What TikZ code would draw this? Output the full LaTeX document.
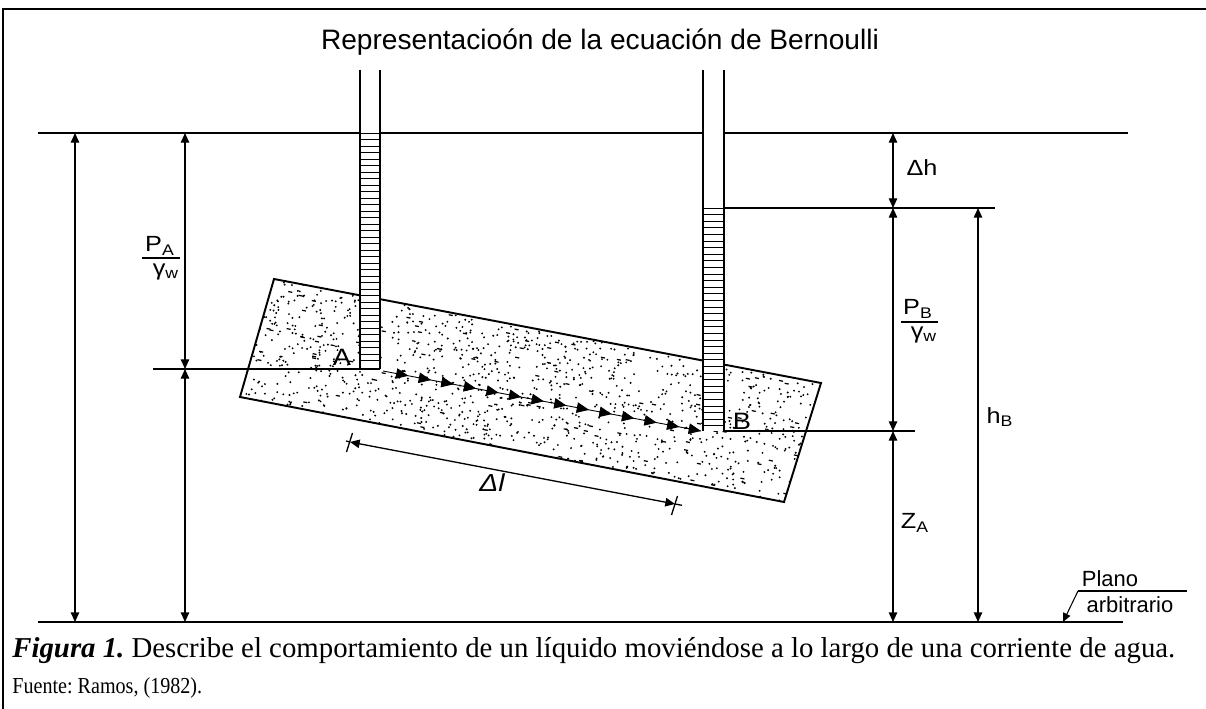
\documentclass[tikz,border=0pt]{standalone}
\usepackage{fontspec}
\setmainfont{Liberation Serif}
\setsansfont{Liberation Sans}
\usetikzlibrary{arrows.meta,calc}
\frenchspacing
% sans labels are set slightly wide
\newcommand\widelbl[1]{\scalebox{1.15}[1]{#1}}

\begin{document}
\begin{tikzpicture}[x=0.02cm,y=-0.02cm,
  dimline/.style={line width=0.75pt},
  dimboth/.style={dimline,{Triangle[length=5.5pt,width=4.8pt]}-{Triangle[length=5.5pt,width=4.8pt]}},
  refline/.style={line width=0.75pt},
  wall/.style={line width=0.9pt},
  hatch/.style={line width=0.55pt},
  soil/.style={line width=1.1pt},
  lbl/.style={font=\sffamily\fontsize{12.5}{14}\selectfont, inner sep=0pt},
  flowtip/.style={-{Triangle[length=7pt,width=6pt]}, line width=0.5pt}]
\useasboundingbox (0,0) rectangle (1206,709);

% frame
\coordinate (fBL) at (3,709);
\coordinate (fTL) at (3,9);
\coordinate (fTR) at (1206,9);
\draw[line width=1.2pt] (fBL) -- (fTL) -- (fTR);

% title
\node[font=\sffamily\fontsize{16}{18}\selectfont] (title) at (600,42) {Representacioón de la ecuación de Bernoulli};

% soil sample (tilted block) with stipple
\coordinate (sTL) at (274,279);
\coordinate (sTR) at (821,383);
\coordinate (sBR) at (784,502);
\coordinate (sBL) at (240,397);
\begin{scope}
  \clip (sTL) -- (sTR) -- (sBR) -- (sBL) -- cycle;
  \pgfmathsetseed{31}
  \foreach \i in {1,...,1100}{
    \pgfmathsetmacro\u{rnd}
    \pgfmathsetmacro\v{rnd}
    \fill ({240+544*\u+34*\v},{397+105*\u-118*\v}) circle (0.6pt);
  }
  \foreach \i in {1,...,110}{
    \pgfmathsetmacro\u{rnd}
    \pgfmathsetmacro\v{rnd}
    \draw[line width=0.7pt] ({240+544*\u+34*\v},{397+105*\u-118*\v}) -- ++(4,0.8);
  }
\end{scope}
\draw[soil] (sTL) -- (sTR) -- (sBR) -- (sBL) -- cycle;

% reference levels
\coordinate (topL) at (38,133);
\coordinate (topR) at (1128,133);
\coordinate (botL) at (38,622);
\coordinate (botR) at (1123,622);
\draw[refline] (topL) -- (topR);
\draw[refline] (botL) -- (botR);

% piezometer A
\coordinate (aTL) at (360,70);
\coordinate (aBR) at (380,369);
\fill[white] (aTL) rectangle (aBR);
\foreach \y in {133,139.5,...,366}{
  \draw[hatch] (360,\y) -- (380,\y);
}
\draw[wall] (360,70) -- (360,369);
\draw[wall] (380,70) -- (380,369);

% piezometer B
\coordinate (bTL) at (703,70);
\coordinate (bBR) at (724,431);
\fill[white] (bTL) rectangle (bBR);
\foreach \y in {208,214.6,...,428}{
  \draw[hatch] (703,\y) -- (724,\y);
}
\draw[wall] (703,70) -- (703,431);
\draw[wall] (724,70) -- (724,431);

% level lines at A and B
\coordinate (lA0) at (153,369);
\coordinate (lA1) at (380,369);
\coordinate (lB0) at (724,431);
\coordinate (lB1) at (915,431);
\coordinate (lH0) at (724,208);
\coordinate (lH1) at (995,208);
\draw[refline] (lA0) -- (lA1);
\draw[refline] (lB0) -- (lB1);
\draw[refline] (lH0) -- (lH1);

% flow path A -> B
\coordinate (fA) at (383,371);
\coordinate (fB) at (701,431);
\draw[line width=0.5pt] (fA) -- (fB);
\foreach \t in {0.08,0.151,...,0.95}{
  \draw[flowtip] ($(fA)!\t-0.04!(fB)$) -- ($(fA)!\t!(fB)$);
}
\draw[flowtip] ($(fA)!0.95!(fB)$) -- (fB);

% vertical dimension lines
\coordinate (d1t) at (75,133);  \coordinate (d1b) at (75,622);
\draw[dimboth] (d1t) -- (d1b);
\coordinate (d2t) at (185,133); \coordinate (d2m) at (185,369); \coordinate (d2b) at (185,622);
\draw[dimboth] (d2t) -- (d2m);
\draw[dimboth] (d2m) -- (d2b);
\coordinate (d3t) at (893,133); \coordinate (d3h) at (893,208); \coordinate (d3m) at (893,431); \coordinate (d3b) at (893,622);
\draw[dimboth] (d3t) -- (d3h);
\draw[dimboth] (d3h) -- (d3m);
\draw[dimboth] (d3m) -- (d3b);
\coordinate (d4t) at (978,208); \coordinate (d4b) at (978,622);
\draw[dimboth] (d4t) -- (d4b);

% length of flow path
\coordinate (dl0) at (350,442);
\coordinate (dl1) at (675,504);
\draw[dimboth] (dl0) -- (dl1);
\draw[dimline] ($(dl0)+(-4,-1)$) -- (dl0);
\draw[dimline] (dl1) -- ($(dl1)+(7,1.3)$);
\draw[dimline] ($(dl0)+(-3.5,10)$) -- ($(dl0)+(2.5,-9)$);
\draw[dimline] ($(dl1)+(-3.5,11)$) -- ($(dl1)+(2.5,-8)$);
\node[lbl,font=\sffamily\itshape\fontsize{14}{16}\selectfont] (dL) at (492,483) {\widelbl{Δl}};

% labels
\node[lbl,font=\sffamily\fontsize{13.5}{15}\selectfont] (ptA) at (342,357) {\widelbl{A}};
\node[lbl,font=\sffamily\fontsize{13.5}{15}\selectfont] (ptB) at (742,421) {\widelbl{B}};
\node[lbl] (pAn) at (160,246) {\widelbl{P\textsubscript{A}}};
\coordinate (pAb0) at (142,258); \coordinate (pAb1) at (180,258);
\draw[line width=0.6pt] (pAb0) -- (pAb1);
\node[lbl] (pAd) at (166,272) {\widelbl{γ\textsubscript{w}}};
\node[lbl] (pBn) at (918,309) {\widelbl{P\textsubscript{B}}};
\coordinate (pBb0) at (901,322); \coordinate (pBb1) at (938,322);
\draw[line width=0.6pt] (pBb0) -- (pBb1);
\node[lbl] (pBd) at (924,335) {\widelbl{γ\textsubscript{w}}};
\node[lbl] (dh) at (922,168) {\widelbl{Δh}};
\node[lbl] (hB) at (1000,417) {\widelbl{h\textsubscript{B}}};
\node[lbl] (zA) at (915,523) {\widelbl{Z\textsubscript{A}}};

% arbitrary datum
\coordinate (pl0) at (1078,591);
\coordinate (pl1) at (1187,591);
\coordinate (plt) at (1063,622);
\draw[line width=0.6pt] (pl1) -- (pl0);
\draw[line width=0.6pt,-{Triangle[length=5pt,width=4.4pt]}] (pl0) -- (plt);
\node[lbl] (plano) at (1110,579) {Plano};
\node[lbl] (arb) at (1130,605) {arbitrario};

% caption
\node[anchor=west,inner sep=0pt,font=\fontsize{16.4}{19}\selectfont] (cap) at (12,651)
  {\textbf{\textit{Figura 1.}} Describe el comportamiento de un líquido moviéndose a lo largo de una corriente de agua.};
\node[anchor=west,inner sep=0pt,font=\fontsize{13}{15}\selectfont] (src) at (12,688) {\scalebox{0.88}[1]{Fuente: Ramos, (1982).}};
\end{tikzpicture}
\end{document}
